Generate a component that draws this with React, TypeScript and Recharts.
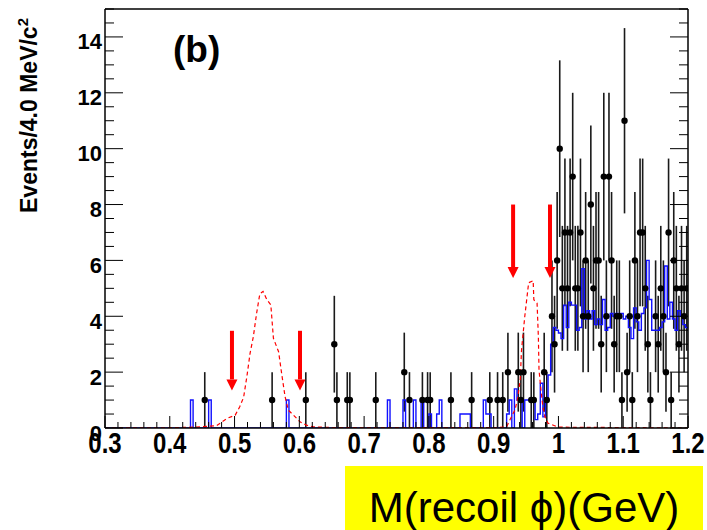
import { ComposedChart, Line, Scatter, ErrorBar, XAxis, YAxis, ReferenceLine, ReferenceDot } from 'recharts';

const BIN = 0.004;
const X_MIN = 0.3;
const X_MAX = 1.2;
const BOLD = '"Liberation Sans", Arial, Helvetica, sans-serif';

// axis ticks: minor every 0.02 GeV / 0.5 events, labels on the majors
const massTicks = Array.from({ length: 46 }, (_, i) => Math.round((X_MIN + i * 0.02) * 100) / 100);
const massLabels = ['0.3', '0.4', '0.5', '0.6', '0.7', '0.8', '0.9', '1', '1.1', '1.2'];
const countTicks = Array.from({ length: 31 }, (_, i) => i * 0.5);
const countLabels = ['0', '2', '4', '6', '8', '10', '12', '14'];

// data (black points), bin centres
const pointMass = [
  0.454, 0.558, 0.610, 0.654, 0.658, 0.674, 0.678, 0.718, 0.762, 0.770, 0.790, 0.798, 0.802,
  0.834, 0.866, 0.894, 0.906, 0.914, 0.922, 0.938, 0.942, 0.946, 0.958, 0.962, 0.978, 0.982,
  0.990, 0.994, 0.998, 1.002, 1.006, 1.010, 1.014, 1.018, 1.022, 1.026, 1.030, 1.034, 1.038,
  1.042, 1.046, 1.050, 1.054, 1.058, 1.062, 1.066, 1.070, 1.074, 1.078, 1.082, 1.086, 1.090,
  1.094, 1.098, 1.102, 1.106, 1.110, 1.114, 1.118, 1.122, 1.126, 1.130, 1.134, 1.138, 1.142,
  1.150, 1.154, 1.158, 1.162, 1.166, 1.170, 1.174, 1.178, 1.182, 1.186, 1.190, 1.194, 1.198,
];
const pointCounts = [
  1, 1, 1, 3, 1, 1, 1, 1, 2, 1, 1, 1, 1,
  1, 1, 1, 1, 1, 2, 2, 1, 2, 1, 1, 2, 1,
  4, 3, 6, 10, 5, 7, 5, 7, 9, 5, 5, 7, 4,
  6, 4, 8, 5, 6, 6, 3, 9, 4, 9, 6, 3, 4,
  4, 1, 11, 2, 4, 1, 6, 4, 7, 7, 5, 3, 1,
  4, 3, 5, 4, 2, 7, 1, 6, 5, 3, 5, 4, 5,
];

// MC (blue histogram), lower bin edges of non-empty bins
const mcBinStart = [
  0.432, 0.460, 0.580, 0.736, 0.760, 0.776, 0.788, 0.800, 0.812, 0.816, 0.848, 0.852, 0.856,
  0.860, 0.884, 0.888, 0.892, 0.920, 0.924, 0.932, 0.936, 0.940, 0.948, 0.952, 0.956, 0.960,
  0.964, 0.968, 0.972, 0.976, 0.980, 0.984, 0.988, 0.992, 0.996, 1.000, 1.004, 1.008, 1.012,
  1.016, 1.020, 1.024, 1.028, 1.032, 1.036, 1.040, 1.044, 1.048, 1.052, 1.056, 1.060, 1.064,
  1.068, 1.072, 1.076, 1.080, 1.084, 1.088, 1.092, 1.096, 1.100, 1.104, 1.108, 1.112, 1.116,
  1.120, 1.124, 1.128, 1.132, 1.136, 1.140, 1.144, 1.148, 1.152, 1.156, 1.160, 1.164, 1.168,
  1.172, 1.176, 1.180, 1.184, 1.188, 1.192, 1.196,
];
const mcCounts = [
  1, 1, 1, 1, 1, 1, 1, 0.5, 0.5, 1, 0.5, 0.5, 0.5,
  0.5, 1, 0.5, 0.5, 0.5, 1, 1.4, 1, 1, 1, 1, 1, 1,
  0.3, 0.5, 1.6, 0.4, 1.0, 1.9, 3.0, 3.6, 3.5, 3.4, 3.2, 4.4, 3.6,
  4.5, 4.4, 4.4, 3.5, 3.6, 5.7, 3.9, 4.2, 3.9, 4.2, 3.7, 3.9, 3.7,
  4.6, 3.5, 3.6, 4.1, 4.0, 4.1, 4.0, 4.1, 3.9, 4.0, 3.6, 3.2, 4.3,
  3.8, 3.5, 4.1, 4.3, 6.0, 4.6, 3.5, 3.5, 3.5, 3.6, 3.8, 5.8, 3.9,
  4.5, 3.9, 3.5, 4.2, 4.0, 3.7, 3.6,
];

// signal shapes (red dashed): eta and eta' peaks
const sigMass = [
  0.300, 0.400, 0.440, 0.472, 0.488, 0.501, 0.508, 0.514, 0.519, 0.524, 0.529, 0.534, 0.539,
  0.544, 0.550, 0.556, 0.560, 0.568, 0.573, 0.578, 0.583, 0.591, 0.601, 0.611, 0.622, 0.660,
  0.900, 0.920, 0.925, 0.933, 0.937, 0.941, 0.943, 0.948, 0.954, 0.961, 0.962, 0.967, 0.969,
  0.970, 0.973, 0.976, 0.979, 0.984, 1.000, 1.200,
];
const sigLevel = [
  0, 0.01, 0.03, 0.08, 0.34, 0.46, 0.76, 1.1, 1.84, 2.68, 3.27, 4.1, 4.8,
  4.89, 4.59, 4.41, 3.21, 2.73, 1.9, 1.12, 0.64, 0.46, 0.22, 0.1, 0.04, 0.01,
  0.01, 0.04, 0.29, 0.65, 1.06, 1.72, 2.79, 3.99, 5.2, 5.27, 4.59, 4.47, 3.27,
  2.08, 1.36, 0.76, 0.41, 0.17, 0.03, 0,
];

// selection arrows
const arrowMass = [0.496, 0.601, 0.930, 0.987];
const arrowTop = [3.48, 3.48, 8.0, 8.0];
const arrowHeadBase = [1.74, 1.74, 5.76, 5.76];

const pointData = pointMass.map((x, i) => ({ x, y: pointCounts[i], err: Math.sqrt(pointCounts[i]) }));

const nBins = Math.round((X_MAX - X_MIN) / BIN);
const mcLookup = new Map(mcBinStart.map((x, i) => [Math.round((x - X_MIN) / BIN), mcCounts[i]]));
const mcData = Array.from({ length: nBins + 1 }, (_, k) => ({
  x: X_MIN + k * BIN,
  y: mcLookup.get(Math.min(k, nBins - 1)) ?? 0,
}));
const sigData = sigMass.map((x, i) => ({ x, y: sigLevel[i] }));

const isMajorMass = (v: number) => Math.abs(v * 10 - Math.round(v * 10)) < 1e-6;
const isMajorCount = (v: number) => Math.abs(v / 2 - Math.round(v / 2)) < 1e-6;

function BottomTick(p: any) {
  const v = p.payload.value;
  const major = isMajorMass(v);
  return (
    <g>
      <line x1={p.x} x2={p.x} y1={p.y} y2={p.y - (major ? 12 : 6)} stroke="#000" strokeWidth={1} />
      {major && (
        <text
          transform={`translate(${p.x},${p.y + 25}) scale(1,1.2)`}
          textAnchor="middle"
          fontSize={24}
          fontWeight="bold"
          fontFamily={BOLD}
          fill="#000"
        >
          {massLabels[Math.round((v - X_MIN) * 10)]}
        </text>
      )}
    </g>
  );
}

function TopTick(p: any) {
  const major = isMajorMass(p.payload.value);
  return <line x1={p.x} x2={p.x} y1={p.y} y2={p.y + (major ? 12 : 6)} stroke="#000" strokeWidth={1} />;
}

function LeftTick(p: any) {
  const v = p.payload.value;
  const major = isMajorCount(v);
  return (
    <g>
      <line x1={p.x} x2={p.x + (major ? 18 : 9)} y1={p.y} y2={p.y} stroke="#000" strokeWidth={1} />
      {major && v <= 14 && (
        <text x={p.x - 3} y={p.y + 12.5} textAnchor="end" fontSize={22} fontWeight="bold" fontFamily={BOLD} fill="#000">
          {countLabels[Math.round(v / 2)]}
        </text>
      )}
    </g>
  );
}

function RightTick(p: any) {
  const major = isMajorCount(p.payload.value);
  return <line x1={p.x} x2={p.x - (major ? 18 : 9)} y1={p.y} y2={p.y} stroke="#000" strokeWidth={1} />;
}

const DataDot = (p: any) => <circle cx={p.cx} cy={p.cy} r={3.2} fill="#000" />;

const ArrowHead = (p: any) => (
  <polygon points={`${p.cx - 5.5},${p.cy} ${p.cx + 5.5},${p.cy} ${p.cx},${p.cy + 11}`} fill="#ff0000" />
);

export default function App() {
  const frame = { stroke: '#000', strokeWidth: 1.5 };
  return (
    <div style={{ position: 'absolute', left: 0, top: 0, width: 707, height: 530, background: '#fff' }}>
      <ComposedChart width={707} height={530} margin={{ top: 8, right: 18, bottom: 0, left: 0 }}>
        <XAxis
          xAxisId="bottom"
          dataKey="x"
          type="number"
          domain={[X_MIN, X_MAX]}
          ticks={massTicks}
          interval={0}
          height={102}
          tickSize={0}
          tickMargin={0}
          tickLine={false}
          axisLine={frame}
          tick={(p: any) => <BottomTick {...p} />}
          allowDataOverflow
        />
        <XAxis
          xAxisId="top"
          orientation="top"
          type="number"
          domain={[X_MIN, X_MAX]}
          ticks={massTicks}
          interval={0}
          height={1}
          tickSize={0}
          tickMargin={0}
          tickLine={false}
          axisLine={frame}
          tick={(p: any) => <TopTick {...p} />}
          allowDataOverflow
        />
        <YAxis
          yAxisId="left"
          dataKey="y"
          type="number"
          domain={[0, 15]}
          ticks={countTicks}
          interval={0}
          width={105}
          tickSize={0}
          tickMargin={0}
          tickLine={false}
          axisLine={frame}
          tick={(p: any) => <LeftTick {...p} />}
          allowDataOverflow
        />
        <YAxis
          yAxisId="right"
          orientation="right"
          type="number"
          domain={[0, 15]}
          ticks={countTicks}
          interval={0}
          width={1}
          tickSize={0}
          tickMargin={0}
          tickLine={false}
          axisLine={frame}
          tick={(p: any) => <RightTick {...p} />}
          allowDataOverflow
        />

        <Scatter
          xAxisId="bottom"
          yAxisId="left"
          data={pointData}
          dataKey="y"
          shape={DataDot}
          isAnimationActive={false}
        >
          <ErrorBar dataKey="err" direction="y" width={0} stroke="#1a1a1a" strokeWidth={1.6} isAnimationActive={false} />
        </Scatter>

        <Line
          xAxisId="bottom"
          yAxisId="left"
          data={mcData}
          dataKey="y"
          type="stepAfter"
          stroke="#1010ff"
          strokeWidth={1.4}
          dot={false}
          activeDot={false}
          isAnimationActive={false}
        />
        <Line
          xAxisId="bottom"
          yAxisId="left"
          data={sigData}
          dataKey="y"
          type="linear"
          stroke="#ff0000"
          strokeWidth={1.2}
          strokeDasharray="4 3"
          dot={false}
          activeDot={false}
          isAnimationActive={false}
        />

        {arrowMass.map((x, i) => (
          <ReferenceLine
            key={`shaft-${i}`}
            xAxisId="bottom"
            yAxisId="left"
            segment={[{ x, y: arrowTop[i] }, { x, y: arrowHeadBase[i] }]}
            stroke="#ff0000"
            strokeWidth={4}
          />
        ))}
        {arrowMass.map((x, i) => (
          <ReferenceDot key={`head-${i}`} xAxisId="bottom" yAxisId="left" x={x} y={arrowHeadBase[i]} shape={ArrowHead} />
        ))}
      </ComposedChart>

      <svg width={707} height={530} style={{ position: 'absolute', left: 0, top: 0, pointerEvents: 'none' }}>
        <text x={173} y={62} fontSize={37} fontWeight="bold" fontFamily={BOLD} fill="#000">
          (b)
        </text>
        <text transform="translate(37,213) rotate(-90)" fontSize={23} fontWeight="bold" fontFamily={BOLD} fill="#000">
          Events/4.0 MeV/c
          <tspan dy={-9} fontSize={15}>
            2
          </tspan>
        </text>
        <rect x={345} y={466} width={358} height={64} fill="#ffff00" />
        <text x={524} y={522} textAnchor="middle" fontSize={42} fontFamily='"Liberation Sans", Arial, sans-serif' fill="#000">
          M(recoil ϕ)(GeV)
        </text>
      </svg>
    </div>
  );
}
